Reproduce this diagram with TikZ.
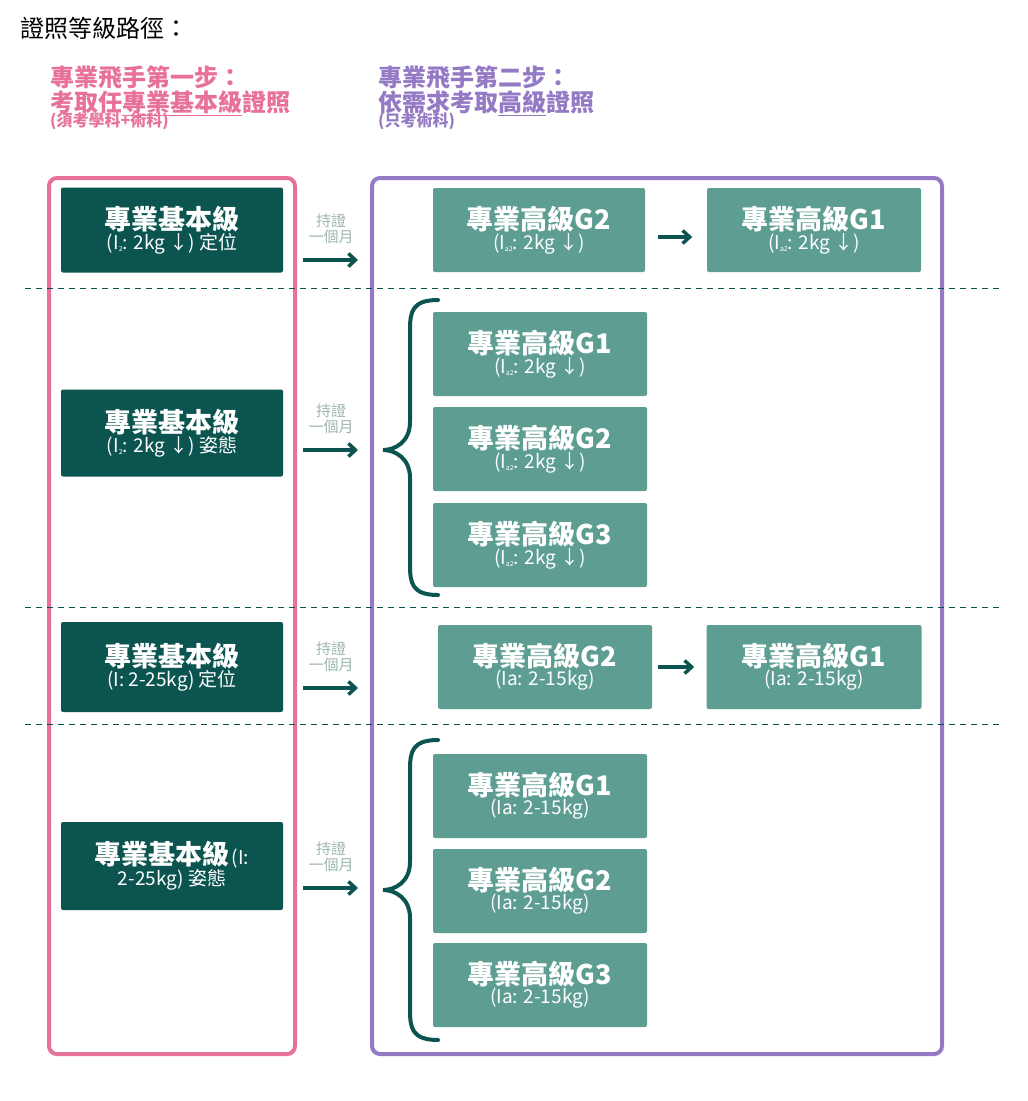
\documentclass[tikz,border=0pt]{standalone}
\usepackage{fontspec}
\setmainfont{Noto Sans CJK TC}
\usetikzlibrary{arrows.meta}
\definecolor{dk}{HTML}{0B5450}
\definecolor{lt}{HTML}{5E9E92}
\definecolor{pk}{HTML}{E8719B}
\definecolor{pu}{HTML}{9479C5}
\definecolor{gy}{HTML}{9BB5B0}
\newcommand{\sbx}[1]{\raisebox{-0.2ex}{\scriptsize #1}}
\newcommand{\bt}[1]{{\fontsize{27}{30}\selectfont\bfseries #1}}
\newcommand{\sm}[1]{{\fontsize{19}{24}\selectfont #1}}
\begin{document}
\begin{tikzpicture}[x=1pt,y=-1pt,
 box/.style={rounded corners=2pt,text=white,align=center,inner sep=0pt},
 dbox/.style={box,fill=dk},
 lbox/.style={box,fill=lt},
 arr/.style={-{Straight Barb[length=7pt,width=13pt]},line width=3.5pt,draw=dk},
 lab/.style={text=gy,font=\fontsize{15}{16}\selectfont,align=center,inner sep=0pt},
 dsh/.style={dk,line width=1pt,dash pattern=on 6pt off 5pt},
 brace/.style={dk,line width=4pt,line cap=round}]
\useasboundingbox (0,0) rectangle (1028,1101);
\node[anchor=west,inner sep=0pt,font=\fontsize{24}{26}\selectfont] (title) at (20,28) {證照等級路徑：};
\node[anchor=north west,inner sep=0pt,align=left,text=pk] (h1) at (50,66)
 {\fontsize{24}{34}\selectfont\bfseries 專業飛手第一步：\\ \fontsize{24}{34}\selectfont\bfseries 考取任\underline{專業基本級}證照\\[-4pt] \fontsize{16}{18}\selectfont\bfseries (須考學科+術科)};
\node[anchor=north west,inner sep=0pt,align=left,text=pu] (h2) at (378,66)
 {\fontsize{24}{34}\selectfont\bfseries 專業飛手第二步：\\ \fontsize{24}{34}\selectfont\bfseries 依需求考取\underline{高級}證照\\[-4pt] \fontsize{16}{18}\selectfont\bfseries (只考術科)};
\draw[pk,line width=4pt,rounded corners=8pt] (49,178) rectangle (295,1054);
\draw[pu,line width=4pt,rounded corners=8pt] (372,178) rectangle (942,1054);
\foreach \y in {288,607,724} \draw[dsh] (25,\y) -- (1000,\y);
% left boxes
\node[dbox,minimum width=222pt,minimum height=85pt] (b1) at (172,230) {\bt{專業基本級}\\ \sm{(I\sbx{2}: 2kg ↓) 定位}};
\node[dbox,minimum width=222pt,minimum height=87pt] (b2) at (172,433) {\bt{專業基本級}\\ \sm{(I\sbx{2}: 2kg ↓) 姿態}};
\node[dbox,minimum width=222pt,minimum height=90pt] (b3) at (172,667) {\bt{專業基本級}\\ \sm{(I: 2-25kg) 定位}};
\node[dbox,minimum width=222pt,minimum height=88pt] (b4) at (172,866) {\bt{專業基本級} \sm{(I:}\\ \sm{2-25kg) 姿態}};
% right boxes
\newcommand{\ha}{\sm{(I\sbx{a2}: 2kg ↓)}}
\newcommand{\hb}{\sm{(Ia: 2-15kg)}}
\tikzset{rb/.style={lbox,minimum width=214pt,minimum height=84pt}}
\node[rb,minimum width=212pt] (r1a) at (539,230) {\bt{專業高級G2}\\ \ha};
\node[rb] (r1b) at (814,230) {\bt{專業高級G1}\\ \ha};
\node[rb] (r2a) at (540,354) {\bt{專業高級G1}\\ \ha};
\node[rb] (r2b) at (540,449) {\bt{專業高級G2}\\ \ha};
\node[rb] (r2c) at (540,545) {\bt{專業高級G3}\\ \ha};
\node[rb] (r3a) at (545,667) {\bt{專業高級G2}\\ \hb};
\node[rb,minimum width=215pt] (r3b) at (814,667) {\bt{專業高級G1}\\ \hb};
\node[rb] (r4a) at (540,796) {\bt{專業高級G1}\\ \hb};
\node[rb] (r4b) at (540,891) {\bt{專業高級G2}\\ \hb};
\node[rb] (r4c) at (540,985) {\bt{專業高級G3}\\ \hb};
% arrows with labels
\foreach \n/\y in {1/260,2/450,3/688,4/888}{
 \coordinate (s\n) at (303,\y); \coordinate (e\n) at (358,\y);
 \draw[arr] (s\n) -- (e\n);
 \node[lab] (l\n) at (331,\y-31) {持證\\一個月};
}
\draw[arr] (r1a.east) ++(13,7) coordinate (x1) -- ++(34,0) coordinate (y1);
\draw[arr] (r3a.east) ++(6,0) coordinate (x2) -- ++(36,0) coordinate (y2);
% braces
\foreach \t/\m/\b in {300/450/595,740/890/1040}{
 \draw[brace] (438,\t) .. controls (412,\t) and (410,\t+12) .. (410,\t+30) -- (410,\m-28) .. controls (410,\m-8) and (395,\m) .. (383,\m)
   .. controls (395,\m) and (410,\m+8) .. (410,\m+28) -- (410,\b-30) .. controls (410,\b-12) and (412,\b) .. (438,\b);
}
\end{tikzpicture}
\end{document}
